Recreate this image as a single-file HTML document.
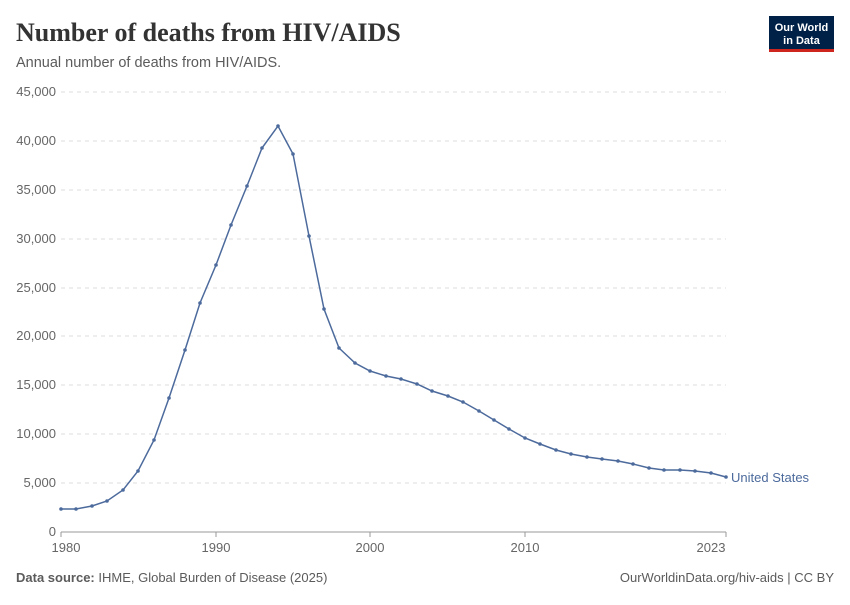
<!DOCTYPE html>
<html><head><meta charset="utf-8"><style>
body{margin:0;background:#fff;width:850px;height:600px;overflow:hidden;font-family:"Liberation Sans",sans-serif}
</style></head><body>
<svg width="850" height="600" xmlns="http://www.w3.org/2000/svg">
<text x="16" y="41" font-family="Liberation Serif,serif" font-size="26" font-weight="bold" fill="#333">Number of deaths from HIV/AIDS</text>
<text x="16" y="67" font-size="14.5" fill="#5b5b5b">Annual number of deaths from HIV/AIDS.</text>
<rect x="769" y="16" width="65" height="36" fill="#002147"/>
<rect x="769" y="49" width="65" height="3" fill="#ce261e"/>
<text x="801.5" y="31" font-size="11" font-weight="bold" fill="#fff" text-anchor="middle">Our World</text>
<text x="801.5" y="44" font-size="11" font-weight="bold" fill="#fff" text-anchor="middle">in Data</text>
<g stroke="#ddd" stroke-dasharray="4,4" stroke-width="1">
<line x1="61" x2="726" y1="92" y2="92"/><line x1="61" x2="726" y1="141" y2="141"/><line x1="61" x2="726" y1="190" y2="190"/><line x1="61" x2="726" y1="239" y2="239"/><line x1="61" x2="726" y1="288" y2="288"/><line x1="61" x2="726" y1="336" y2="336"/><line x1="61" x2="726" y1="385" y2="385"/><line x1="61" x2="726" y1="434" y2="434"/><line x1="61" x2="726" y1="483" y2="483"/>
</g>
<line x1="61" x2="726" y1="532" y2="532" stroke="#999"/>
<g font-size="13" fill="#666" text-anchor="end">
<text x="56" y="96">45,000</text><text x="56" y="145">40,000</text><text x="56" y="194">35,000</text><text x="56" y="243">30,000</text><text x="56" y="292">25,000</text><text x="56" y="340">20,000</text><text x="56" y="389">15,000</text><text x="56" y="438">10,000</text><text x="56" y="487">5,000</text><text x="56" y="536">0</text>
</g>
<g stroke="#999"><line x1="61" x2="61" y1="532" y2="537"/><line x1="216" x2="216" y1="532" y2="537"/><line x1="370" x2="370" y1="532" y2="537"/><line x1="525" x2="525" y1="532" y2="537"/><line x1="726" x2="726" y1="532" y2="537"/></g>
<g font-size="13" fill="#666" text-anchor="middle">
<text x="66" y="552">1980</text><text x="216" y="552">1990</text><text x="370" y="552">2000</text><text x="525" y="552">2010</text><text x="711" y="552">2023</text>
</g>
<polyline fill="none" stroke="#4c6a9c" stroke-width="1.5" points="61,509 76,509 92,506 107,501 123,490 138,471 154,440 169,398 185,350 200,303 216,265 231,225 247,186 262,148 278,126 293,154 309,236 324,309 339,348 355,363 370,371 386,376 401,379 417,384 432,391 448,396 463,402 479,411 494,420 509,429 525,438 540,444 556,450 571,454 587,457 602,459 618,461 633,464 649,468 664,470 680,470 695,471 711,473 726,477"/>
<g fill="#4c6a9c">
<circle cx="61" cy="509" r="1.8"/><circle cx="76" cy="509" r="1.8"/><circle cx="92" cy="506" r="1.8"/><circle cx="107" cy="501" r="1.8"/><circle cx="123" cy="490" r="1.8"/><circle cx="138" cy="471" r="1.8"/><circle cx="154" cy="440" r="1.8"/><circle cx="169" cy="398" r="1.8"/><circle cx="185" cy="350" r="1.8"/><circle cx="200" cy="303" r="1.8"/><circle cx="216" cy="265" r="1.8"/><circle cx="231" cy="225" r="1.8"/><circle cx="247" cy="186" r="1.8"/><circle cx="262" cy="148" r="1.8"/><circle cx="278" cy="126" r="1.8"/><circle cx="293" cy="154" r="1.8"/><circle cx="309" cy="236" r="1.8"/><circle cx="324" cy="309" r="1.8"/><circle cx="339" cy="348" r="1.8"/><circle cx="355" cy="363" r="1.8"/><circle cx="370" cy="371" r="1.8"/><circle cx="386" cy="376" r="1.8"/><circle cx="401" cy="379" r="1.8"/><circle cx="417" cy="384" r="1.8"/><circle cx="432" cy="391" r="1.8"/><circle cx="448" cy="396" r="1.8"/><circle cx="463" cy="402" r="1.8"/><circle cx="479" cy="411" r="1.8"/><circle cx="494" cy="420" r="1.8"/><circle cx="509" cy="429" r="1.8"/><circle cx="525" cy="438" r="1.8"/><circle cx="540" cy="444" r="1.8"/><circle cx="556" cy="450" r="1.8"/><circle cx="571" cy="454" r="1.8"/><circle cx="587" cy="457" r="1.8"/><circle cx="602" cy="459" r="1.8"/><circle cx="618" cy="461" r="1.8"/><circle cx="633" cy="464" r="1.8"/><circle cx="649" cy="468" r="1.8"/><circle cx="664" cy="470" r="1.8"/><circle cx="680" cy="470" r="1.8"/><circle cx="695" cy="471" r="1.8"/><circle cx="711" cy="473" r="1.8"/><circle cx="726" cy="477" r="1.8"/>
</g>
<text x="731" y="482" font-size="13" fill="#4c6a9c">United States</text>
<text x="16" y="582" font-size="13" fill="#5b5b5b"><tspan font-weight="bold">Data source:</tspan> IHME, Global Burden of Disease (2025)</text>
<text x="834" y="582" font-size="13" fill="#5b5b5b" text-anchor="end">OurWorldinData.org/hiv-aids | CC BY</text>
</svg>
</body></html>
